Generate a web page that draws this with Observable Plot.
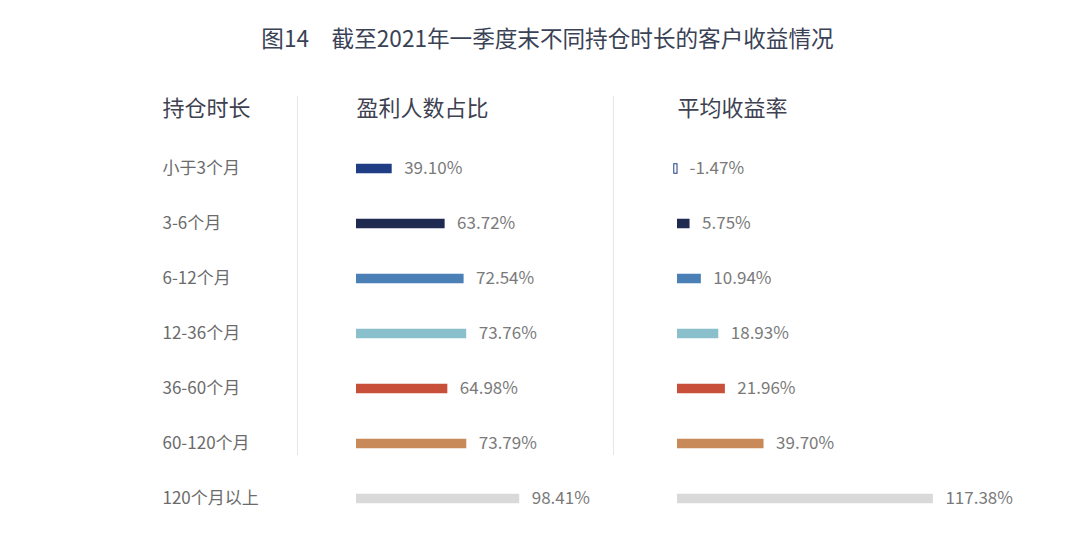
<!DOCTYPE html>
<html><head><meta charset="utf-8">
<script src="https://cdn.jsdelivr.net/npm/d3@7"></script>
<script src="https://cdn.jsdelivr.net/npm/@observablehq/plot@0.6"></script>
<style>
body{margin:0;background:#fff;font-family:"Noto Sans CJK SC","Noto Sans",sans-serif;}
#wrap{position:relative;width:1080px;height:537px;overflow:hidden;background:#fff;}
#title{position:absolute;left:0;top:22px;width:1080px;text-align:center;font-size:22.6px;line-height:32px;color:#3a4256;padding-left:15px;box-sizing:border-box;white-space:pre;}
.panel{position:absolute;top:0;}
.sep{position:absolute;top:96px;height:359px;width:0;border-left:1px solid #e6e6e6;}
</style></head><body>
<div id="wrap"><div id="title"></div></div>
<script>
const title = "图14　截至2021年一季度末不同持仓时长的客户收益情况";
const headers = ["持仓时长", "盈利人数占比", "平均收益率"];
const categories = ["小于3个月", "3-6个月", "6-12个月", "12-36个月", "36-60个月", "60-120个月", "120个月以上"];
const profitShare = [39.10, 63.72, 72.54, 73.76, 64.98, 73.79, 98.41];
const avgReturn = [-1.47, 5.75, 10.94, 18.93, 21.96, 39.70, 117.38];
const colors = ["#1f3d85", "#1e2a50", "#4a80b6", "#8ac0cc", "#c8503a", "#c98a5a", "#d9d9d9"];

const wrap = document.getElementById("wrap");
document.getElementById("title").textContent = title;

const rowsA = categories.map((c, i) => ({c, v: profitShare[i], color: colors[i]}));
const rowsB = categories.map((c, i) => ({c, v: avgReturn[i], color: colors[i]}));

const FONT = '"Noto Sans CJK SC","Noto Sans",sans-serif';
const yScale = {type: "band", domain: categories, range: [139.25, 527.75], padding: 0, axis: null};
const inset = 22.75;
const headerMark = (h) => Plot.text([h], {frameAnchor: "top-left", text: d => d, dy: 108, lineAnchor: "middle", textAnchor: "start", fontSize: 22, fill: "#3d4150"});

function place(svg, left) {
  const d = document.createElement("div");
  d.className = "panel";
  d.style.left = left + "px";
  d.appendChild(svg);
  wrap.appendChild(d);
}

// Panel 1: category labels
const p1 = Plot.plot({
  width: 297, height: 537, marginTop: 0, marginBottom: 0, marginLeft: 162, marginRight: 0,
  style: {fontFamily: FONT, background: "transparent"},
  x: {axis: null},
  y: yScale,
  marks: [
    headerMark(headers[0]),
    Plot.text(categories, {y: d => d, text: d => d, frameAnchor: "left", textAnchor: "start", fontSize: 17, fill: "#6b6b6b"})
  ]
});
place(p1, 0);

// Panel 2: profit share
const baseA = 22.5, kA = 2.15;
const p2 = Plot.plot({
  width: 316, height: 537, marginTop: 0, marginBottom: 0, marginLeft: 59, marginRight: 0,
  style: {fontFamily: FONT, background: "transparent"},
  x: {type: "linear", domain: [baseA, 100], range: [59, 59 + (100 - baseA) * kA], axis: null},
  y: yScale,
  color: {type: "identity"},
  marks: [
    headerMark(headers[1]),
    Plot.barX(rowsA, {x1: baseA, x2: "v", y: "c", fill: "color", insetTop: inset, insetBottom: inset}),
    Plot.text(rowsA, {x: "v", y: "c", text: d => d.v.toFixed(2) + "%", dx: 12, textAnchor: "start", fontSize: 17, fill: "#7a7a7a"})
  ]
});
place(p2, 297);

// Panel 3: average return
const kB = 2.18;
const p3 = Plot.plot({
  width: 467, height: 537, marginTop: 0, marginBottom: 0, marginLeft: 64, marginRight: 0,
  style: {fontFamily: FONT, background: "transparent"},
  x: {type: "linear", domain: [0, 130], range: [64, 64 + 130 * kB], axis: null},
  y: yScale,
  color: {type: "identity"},
  marks: [
    headerMark(headers[2]),
    Plot.barX(rowsB.filter(d => d.v >= 0), {x1: 0, x2: "v", y: "c", fill: "color", insetTop: inset, insetBottom: inset}),
    Plot.barX(rowsB.filter(d => d.v < 0), {x1: 0, x2: "v", y: "c", fill: "#fff", stroke: "color", strokeWidth: 1, insetTop: inset, insetBottom: inset}),
    Plot.text(rowsB, {x: d => Math.max(0, d.v), y: "c", text: d => d.v.toFixed(2) + "%", dx: 12, textAnchor: "start", fontSize: 17, fill: "#7a7a7a"})
  ]
});
place(p3, 613);

// separators
[297, 613].forEach(x => {
  const s = document.createElement("div");
  s.className = "sep";
  s.style.left = x + "px";
  wrap.appendChild(s);
});
</script>
</body></html>
